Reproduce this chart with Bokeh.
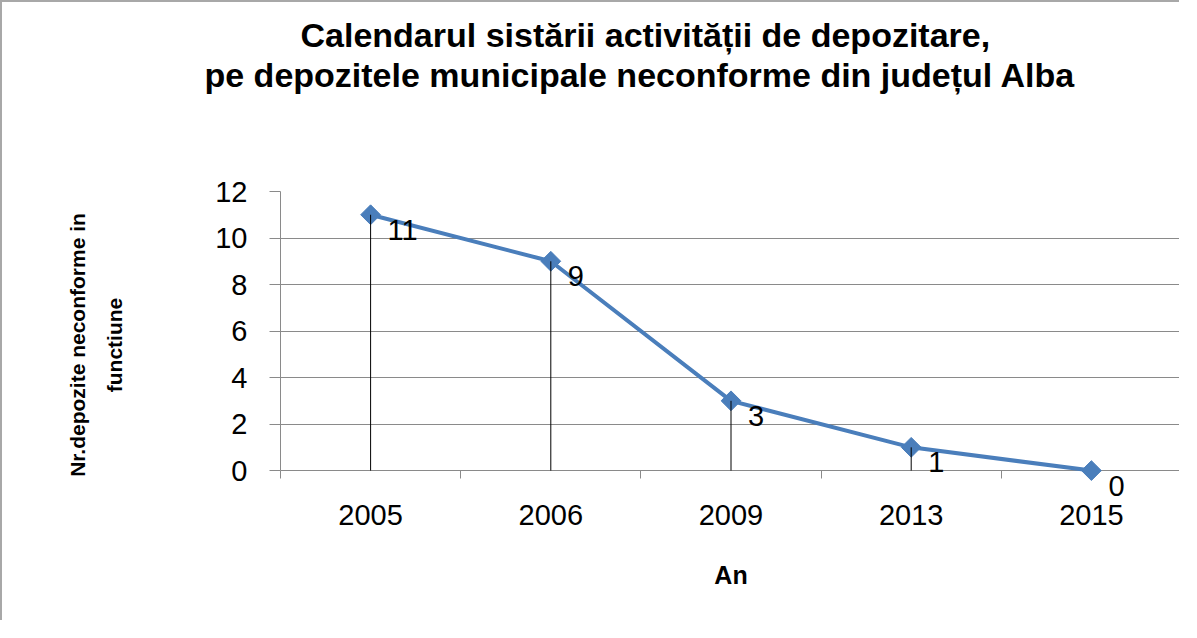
import math
from bokeh.plotting import figure
from bokeh.models import Range1d, FixedTicker, Title, ColumnDataSource
from bokeh.embed import file_html
from bokeh.resources import INLINE
from bokeh.core.properties import value

# ---- data ----
years = ["2005", "2006", "2009", "2013", "2015"]
counts = [11, 9, 3, 1, 0]
y_ticks = [0, 2, 4, 6, 8, 10, 12]
title_lines = ["Calendarul sistării activității de depozitare,",
               "pe depozitele municipale neconforme din județul Alba"]
y_title = "Nr.depozite neconforme in\nfunctiune"
x_title = "An"

BLUE = "#4A7EBB"
GRID = "#8a8a8a"
FONT = "Liberation Sans"

xs = [i + 0.5 for i in range(len(years))]
src = ColumnDataSource(dict(x=xs, y=counts, lab=[str(c) for c in counts]))

# y range starts a little below 0 so the markers/labels sitting on 0 are not clipped
p = figure(width=1179, height=620,
           x_range=Range1d(0, len(years)), y_range=Range1d(-1.2, max(y_ticks)),
           output_backend="svg", toolbar_location=None,
           min_border_left=278, min_border_right=0,
           min_border_top=189, min_border_bottom=124)
p.styles = {"border-left": "2px solid #a8a8a8", "border-top": "2px solid #a8a8a8"}
p.outline_line_color = None
p.background_fill_color = "white"
p.border_fill_color = "white"

# grid (the 0 grid line doubles as the category axis line)
p.xgrid.grid_line_color = None
p.ygrid.ticker = FixedTicker(ticks=y_ticks)
p.ygrid.grid_line_color = GRID
p.ygrid.grid_line_width = 1

# x axis: labels at category centres, tick marks at category boundaries
xa = p.xaxis[0]
xa.ticker = FixedTicker(ticks=xs, minor_ticks=list(range(len(years) + 1)))
xa.major_label_overrides = {x: y for x, y in zip(xs, years)}
xa.major_tick_line_color = None
xa.major_tick_out = 0
xa.major_tick_in = 0
xa.minor_tick_line_color = GRID
xa.minor_tick_in = 28
xa.minor_tick_out = -20
xa.axis_line_color = None
xa.major_label_standoff = 6
xa.major_label_text_font = FONT
xa.major_label_text_font_size = "29px"
xa.major_label_text_color = "black"
xa.axis_label = x_title
xa.axis_label_text_font = FONT
xa.axis_label_text_font_style = "bold"
xa.axis_label_text_font_size = "25px"
xa.axis_label_text_color = "black"
xa.axis_label_standoff = 33

ya = p.yaxis[0]
ya.bounds = (y_ticks[0], y_ticks[-1])
ya.ticker = FixedTicker(ticks=y_ticks)
ya.major_tick_line_color = GRID
ya.major_tick_out = 11
ya.major_tick_in = 0
ya.minor_tick_line_color = None
ya.axis_line_color = GRID
ya.major_label_standoff = 22
ya.major_label_text_font = FONT
ya.major_label_text_font_size = "29px"
ya.major_label_text_color = "black"
ya.axis_label = y_title
ya.axis_label_text_font = FONT
ya.axis_label_text_font_style = "bold"
ya.axis_label_text_font_size = "21px"
ya.axis_label_text_color = "black"
ya.axis_label_text_line_height = 1.6
ya.axis_label_standoff = 86

# series
p.line("x", "y", source=src, line_color=BLUE, line_width=4)
p.scatter("x", "y", source=src, marker="square", angle=math.pi / 4, size=14,
          fill_color=BLUE, line_color=BLUE)
p.segment(x0="x", y0=0, x1="x", y1="y", source=src, line_color="black", line_width=1)
p.text("x", "y", text="lab", source=src, x_offset=17, y_offset=15,
       text_align="left", text_baseline="middle",
       text_font=value(FONT), text_font_size="29px", text_color="black")

# titles (spacer first = closest to the frame)
p.add_layout(Title(text=" ", text_font_size="1px", standoff=95), "above")
p.add_layout(Title(text=title_lines[1], align="left", offset=-76, standoff=0,
                   text_font=FONT, text_font_style="bold", text_font_size="34px",
                   text_color="black"), "above")
p.add_layout(Title(text=title_lines[0], align="left", offset=20, standoff=0,
                   text_font=FONT, text_font_style="bold", text_font_size="34px",
                   text_color="black"), "above")

open("out.html", "w").write(file_html(p, INLINE))
